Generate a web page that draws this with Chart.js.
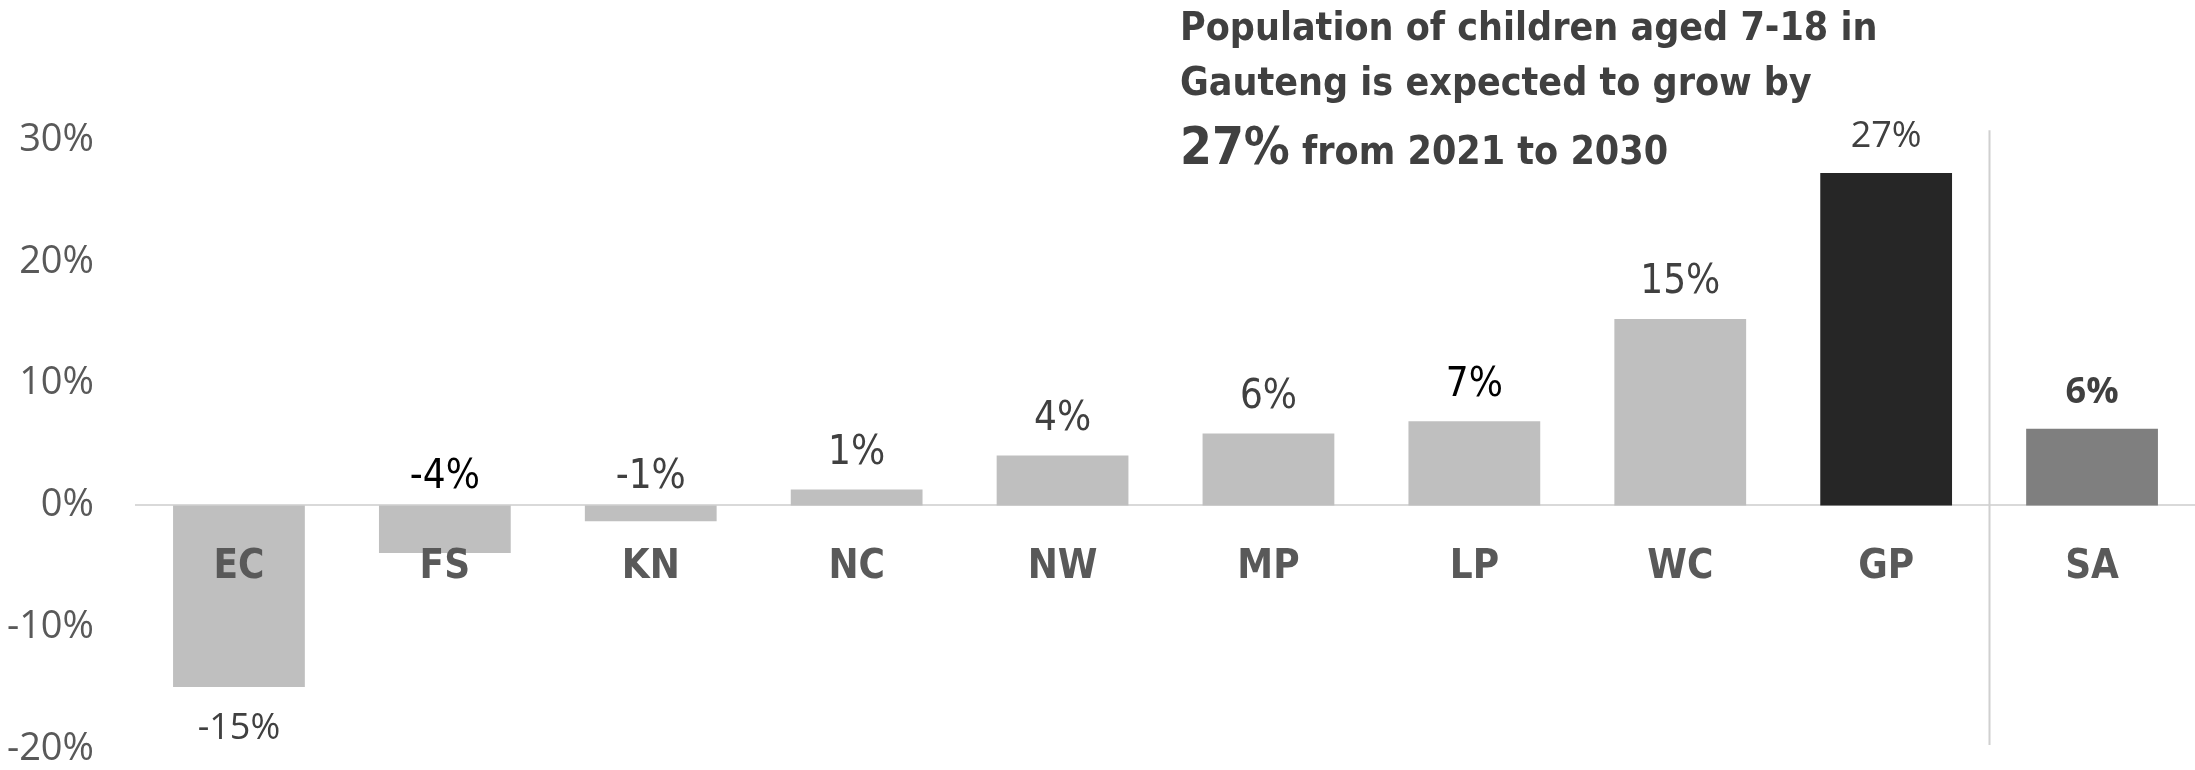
<!DOCTYPE html>
<html>
<head>
<meta charset="utf-8">
<script src="https://cdn.jsdelivr.net/npm/chart.js@4.4.0/dist/chart.umd.min.js"></script>
<style>
  html, body { margin: 0; padding: 0; background: #fff; }
  #wrap { width: 2195px; height: 770px; position: relative; }
</style>
</head>
<body>
<div id="wrap"><canvas id="growthChart"></canvas></div>
<script>
// Provinces, with the national figure (SA) last
const provinces = ['EC', 'FS', 'KN', 'NC', 'NW', 'MP', 'LP', 'WC', 'GP', 'SA'];
// Projected change in the number of children aged 7-18, 2021 to 2030 (%)
const growth = [-14.9, -3.9, -1.3, 1.3, 4.1, 5.9, 6.9, 15.3, 27.3, 6.3];
const yMin = -20;
const yMax = 30;
const yStep = 10;

const headline = ['Population of children aged 7-18 in', 'Gauteng is expected to grow by'];
const headlineFigure = '27%';
const headlineTail = ' from 2021 to 2030';

// styling
const barColours = ['#bfbfbf', '#bfbfbf', '#bfbfbf', '#bfbfbf', '#bfbfbf',
                    '#bfbfbf', '#bfbfbf', '#bfbfbf', '#262626', '#7f7f7f'];
const labelColours = ['#404040', '#000000', '#404040', '#404040', '#404040',
                      '#404040', '#000000', '#404040', '#404040', '#404040'];
const SANS = '"Open Sans", "Noto Sans", sans-serif';
const NARROW = '"Liberation Sans Narrow", "DejaVu Sans Condensed", "Liberation Sans", sans-serif';
const labelFonts = [
  '36px ' + SANS, '40px ' + NARROW, '40px ' + NARROW, '40px ' + NARROW, '40px ' + NARROW,
  '40px ' + NARROW, '40px ' + NARROW, '40px ' + NARROW, '36px ' + SANS, 'bold 36px ' + SANS
];

// value labels: above positive bars, just above the axis for small negatives
// (the category name sits under the axis), below the bar for large negatives
const valueLabels = {
  id: 'valueLabels',
  afterDatasetsDraw(chart) {
    const ctx = chart.ctx;
    const meta = chart.getDatasetMeta(0);
    const zeroY = chart.scales.y.getPixelForValue(0);
    ctx.save();
    ctx.textAlign = 'center';
    ctx.textBaseline = 'middle';
    meta.data.forEach((bar, i) => {
      const v = growth[i];
      let y;
      if (v >= 0) y = bar.y - 36;
      else if (v > -10) y = zeroY - 28;
      else y = bar.y + 42;
      ctx.font = labelFonts[i];
      ctx.fillStyle = labelColours[i];
      ctx.fillText(Math.round(v) + '%', bar.x, y);
    });
    ctx.restore();
  }
};

// thin rule separating the provinces from the national total
const totalDivider = {
  id: 'totalDivider',
  beforeDatasetsDraw(chart) {
    const meta = chart.getDatasetMeta(0);
    const n = meta.data.length;
    const x = Math.round((meta.data[n - 2].x + meta.data[n - 1].x) / 2) + 0.5;
    const y = chart.scales.y;
    const ctx = chart.ctx;
    ctx.save();
    ctx.strokeStyle = '#d0d0d0';
    ctx.lineWidth = 2;
    ctx.beginPath();
    ctx.moveTo(x, y.getPixelForValue(30.8));
    ctx.lineTo(x, chart.chartArea.bottom - 4);
    ctx.stroke();
    ctx.restore();
  }
};

// headline text in the top right
const headlineText = {
  id: 'headlineText',
  afterDraw(chart) {
    const ctx = chart.ctx;
    const left = 1180;
    ctx.save();
    ctx.fillStyle = '#404040';
    ctx.textAlign = 'left';
    ctx.textBaseline = 'alphabetic';
    ctx.font = 'bold 39px ' + NARROW;
    ctx.fillText(headline[0], left, 40);
    ctx.fillText(headline[1], left, 95);
    ctx.font = 'bold 51px ' + NARROW;
    ctx.fillText(headlineFigure, left, 164);
    const w = ctx.measureText(headlineFigure).width;
    ctx.font = 'bold 39px ' + NARROW;
    ctx.fillText(headlineTail, left + w, 164);
    ctx.restore();
  }
};

new Chart(document.getElementById('growthChart'), {
  type: 'bar',
  data: {
    labels: provinces,
    datasets: [{
      data: growth,
      backgroundColor: barColours,
      borderWidth: 0,
      barPercentage: 0.64,
      categoryPercentage: 1.0
    }]
  },
  options: {
    responsive: true,
    maintainAspectRatio: false,
    animation: false,
    layout: { padding: { top: 140, bottom: 21, left: 0, right: 0 } },
    plugins: {
      legend: { display: false },
      tooltip: { enabled: false }
    },
    scales: {
      x: {
        position: { y: 0 },
        grid: { display: false, drawTicks: false },
        border: { display: true, color: '#d9d9d9', width: 2 },
        ticks: {
          z: 1,  // names sit on top of the negative bars
          padding: 38,
          color: '#595959',
          font: { family: NARROW, size: 40, weight: 'bold' }
        }
      },
      y: {
        min: yMin,
        max: yMax,
        grid: { display: false, drawTicks: false },
        border: { display: false },
        afterFit(scale) {
          scale.width = 136;
          scale.paddingTop = 0;
          scale.paddingBottom = 0;
        },
        ticks: {
          stepSize: yStep,
          padding: 42,
          color: '#595959',
          font: { family: SANS, size: 38 },
          callback: v => v + '%'
        }
      }
    }
  },
  plugins: [valueLabels, totalDivider, headlineText]
});
</script>
</body>
</html>
